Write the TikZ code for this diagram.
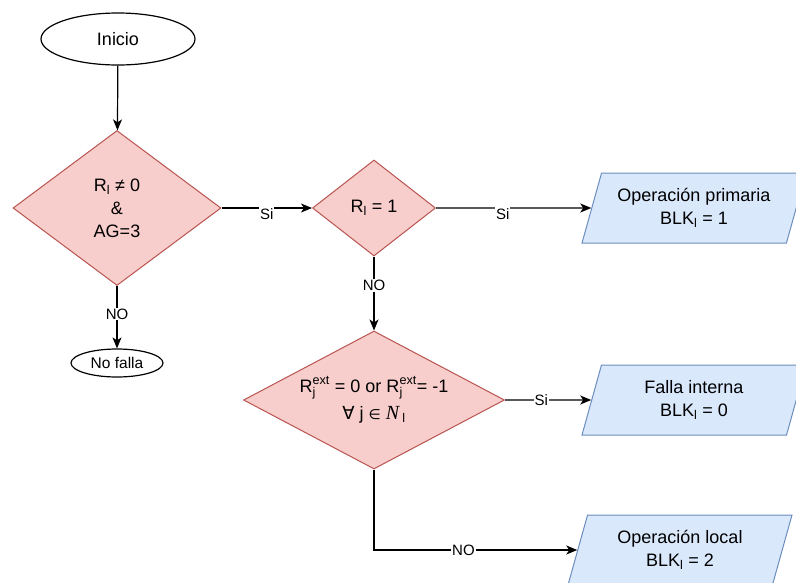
\documentclass[tikz,border=0pt]{standalone}
\usepackage{amsmath}
\usepackage{fontspec}
\setmainfont{Liberation Sans}
\newfontfamily\symfont{DejaVu Sans}
\newfontfamily\serifit{Liberation Serif}
\usetikzlibrary{arrows.meta, shapes.geometric, positioning}

\definecolor{decfill}{HTML}{F8CECC}
\definecolor{decline}{HTML}{B85450}
\definecolor{outfill}{HTML}{DAE8FC}
\definecolor{outline}{HTML}{6C8EBF}

\newcommand{\Rl}{R\textsubscript{l}}
\newcommand{\Rext}{$\text{R}^{\text{ext}}_{\text{j}}$}

\begin{document}
\begin{tikzpicture}[x=1pt, y=-1pt,
                    every node/.style={font=\fontsize{18}{23}\selectfont},
                    decision/.style={diamond, draw=decline, fill=decfill, line width=1pt, inner sep=0pt},
                    terminal/.style={ellipse, draw, line width=1.2pt, inner sep=0pt},
                    output/.style={trapezium, trapezium left angle=67, trapezium right angle=113,
                                   trapezium stretches body, draw=outline, fill=outfill, line width=1pt,
                                   minimum width=224pt, minimum height=70pt, align=center},
                    edgelabel/.style={fill=white, inner sep=1pt, font=\fontsize{15}{18}\selectfont},
                    flow/.style={-{Stealth[length=11pt,width=9pt,inset=3pt]}, line width=1.2pt}]
    \useasboundingbox (0,0) rectangle (796,582);

    % nodos
    \node[terminal, minimum width=154pt, minimum height=52pt] (inicio) at (118,39) {Inicio};
    \node[decision, minimum width=208pt, minimum height=155pt] (c1) at (117,208) {};
    \node[align=center] (c1txt) at (c1) {\Rl{} ≠ 0\\\&\\AG=3};
    \node[terminal, minimum width=92pt, minimum height=28pt,
          font=\fontsize{15.5}{18}\selectfont] (nofalla) at (117,363) {No falla};
    \node[decision, minimum width=123pt, minimum height=96pt] (c2) at (374,208) {};
    \node (c2txt) at (c2) {\Rl{} = 1};
    \node[decision, minimum width=261pt, minimum height=138pt] (c3) at (374,400) {};
    \node[align=center, font=\fontsize{18}{27}\selectfont] (c3txt) at (c3)
        {\Rext{} = 0 or \Rext= -1\\{\symfont ∀} j {\symfont\fontsize{14}{18}\selectfont ∈} {\serifit\itshape\fontsize{20}{24}\selectfont N}\,\textsubscript{l}};
    \node[output] (p1) at (694,208) {Operación primaria\\BLK\textsubscript{l} = 1};
    \node[output] (p2) at (694,400) {Falla interna\\BLK\textsubscript{l} = 0};
    \node[output] (p3) at (680,550) {Operación local\\BLK\textsubscript{l} = 2};

    % conexiones
    \draw[flow] (inicio) -- (c1);
    \draw[flow] (c1) -- node[edgelabel, yshift=-6pt] (si1) {Si} (c2);
    \draw[flow] (c2) -- node[edgelabel, pos=0.43, yshift=-6pt] (si2) {Si} (p1);
    \draw[flow] (c1) -- node[edgelabel, pos=0.45] (no1) {NO} (nofalla);
    \draw[flow] (c2) -- node[edgelabel, pos=0.39] (no2) {NO} (c3);
    \draw[flow] (c3) -- node[edgelabel, pos=0.42] (si3) {Si} (p2);
    \draw[flow] (c3) |- node[edgelabel, pos=0.72] (no3) {NO} (p3);
\end{tikzpicture}
\end{document}
